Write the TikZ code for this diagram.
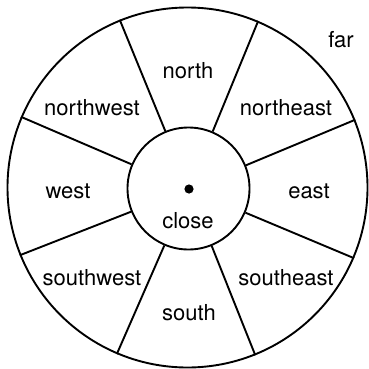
\documentclass[tikz,border=0pt]{standalone}
\usepackage{fontspec}
\setmainfont{TeX Gyre Heros}
\usepackage{tikz}
\usetikzlibrary{positioning,arrows.meta,calc}

\tikzset{
	ring/.style={draw, circle, line width=1.9pt, inner sep=0pt},
	spoke/.style={line width=1.9pt},
	dirlabel/.style={anchor=base, inner sep=0pt, font=\fontsize{22}{26}\selectfont}
}

\begin{document}
\begin{tikzpicture}[x=1pt,y=1pt]
		
		\useasboundingbox (0,0) rectangle (369,368);
		
		\node[ring, minimum size=360pt] (far) at (187.5,180.5) {};
		\node[ring, minimum size=122pt] (close) at (188.5,179.5) {};
		\fill (189,179) circle (4.6pt);
		
		% spokes between the two rings
		\foreach \a in {22.5,67.5,...,337.5}
		\draw[spoke] (close.\a) -- (far.\a);
		
		\node[dirlabel] (N)  at (188,290) {north};
		\node[dirlabel] (NE) at (286,253) {northeast};
		\node[dirlabel] (E)  at (309,170) {east};
		\node[dirlabel] (SE) at (286,83)  {southeast};
		\node[dirlabel] (S)  at (189,48)  {south};
		\node[dirlabel] (SW) at (92,83)   {southwest};
		\node[dirlabel] (W)  at (68,170)  {west};
		\node[dirlabel] (NW) at (92,253)  {northwest};
		\node[dirlabel] (C)  at (188,140) {close};
		\node[dirlabel] (F)  at (341,321) {far};
		
	\end{tikzpicture}
\end{document}
